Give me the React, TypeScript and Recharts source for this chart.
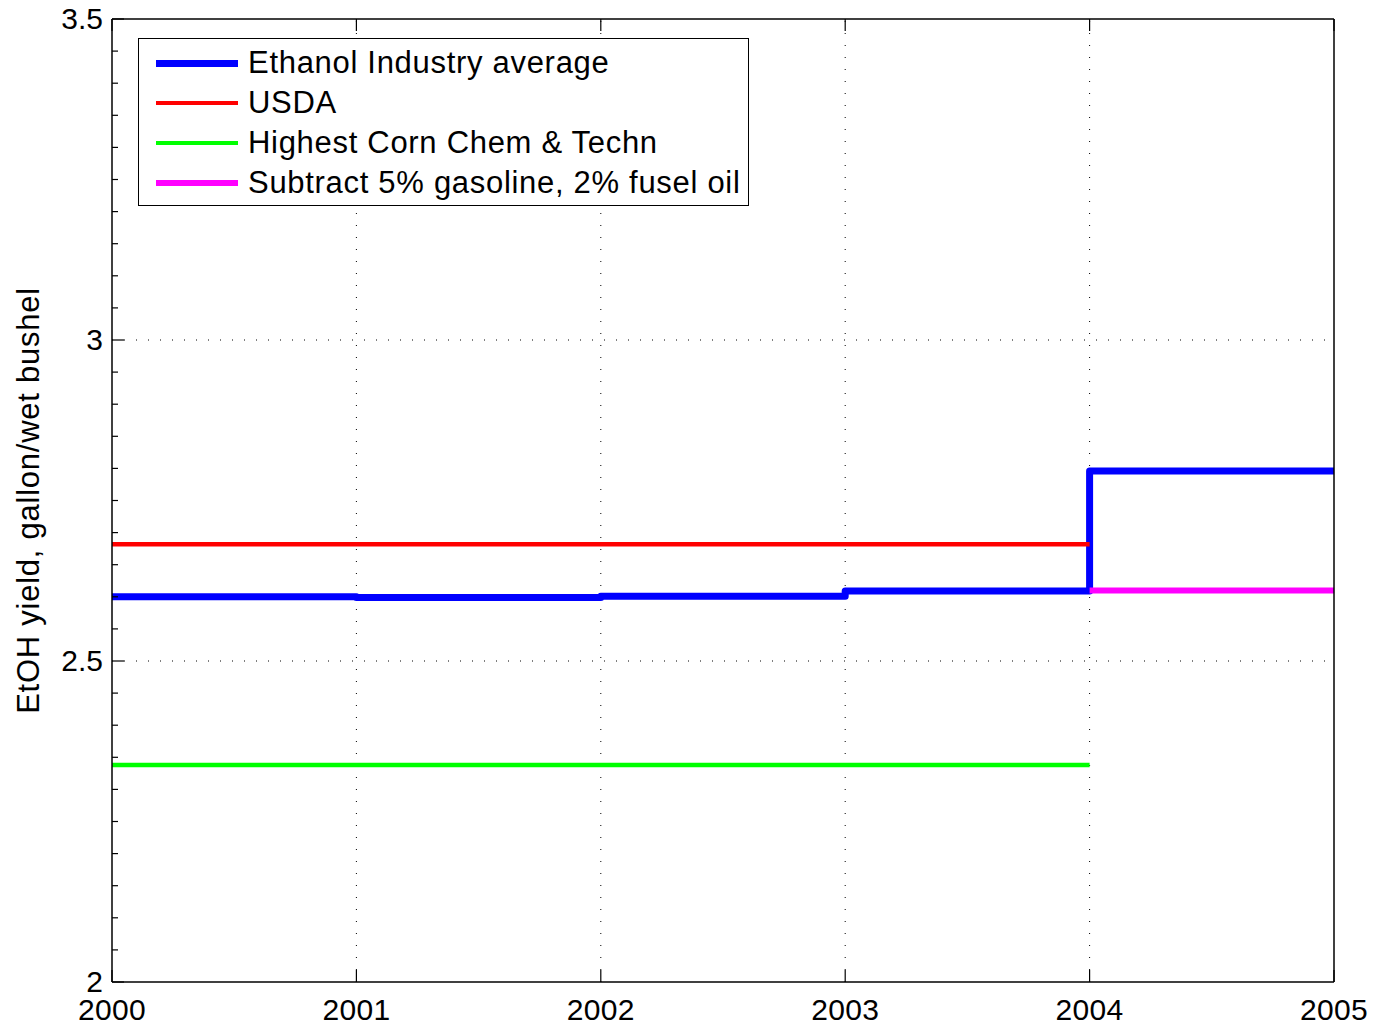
import { LineChart, Line, XAxis, YAxis, ReferenceLine, Legend } from 'recharts';

const years = [2000, 2001, 2002, 2003, 2004, 2005];
const ethanolIndustry = [2.6, 2.599, 2.601, 2.609, 2.796, 2.796];
const usda = [2.682, 2.682, 2.682, 2.682, 2.682, null];
const highestCorn = [2.338, 2.338, 2.338, 2.338, 2.338, null];
const subtractFusel = [null, null, null, null, 2.61, 2.61];

const seriesNames = [
  'Ethanol Industry average',
  'USDA',
  'Highest Corn Chem & Techn',
  'Subtract 5% gasoline, 2% fusel oil',
];

const yMajorTicks = [2, 2.5, 3, 3.5];
const yTicks = Array.from({ length: 31 }, (_, i) => Math.round((2 + i * 0.05) * 100) / 100);
const gridYears = [2001, 2002, 2003, 2004];
const gridValues = [2.5, 3];

const data = years.map((year, i) => ({
  year,
  ethanol: ethanolIndustry[i],
  usda: usda[i],
  corn: highestCorn[i],
  fusel: subtractFusel[i],
}));

const FONT = '"Liberation Sans", Arial, Helvetica, sans-serif';
const isMajor = (v: number) => yMajorTicks.some((m) => Math.abs(m - v) < 1e-6);

const BottomTick = ({ x, y, payload }: any) => (
  <g>
    <line x1={x} y1={y} x2={x} y2={y - 12} stroke="#000" strokeWidth={1.2} />
    <text x={x} y={y + 27} textAnchor="middle" dominantBaseline="central" fontSize={30} letterSpacing={0.3} fontFamily={FONT} fill="#000">
      {payload.value}
    </text>
  </g>
);

const TopTick = ({ x, y }: any) => <line x1={x} y1={y} x2={x} y2={y + 12} stroke="#000" strokeWidth={1.2} />;

const LeftTick = ({ x, y, payload }: any) => {
  const major = isMajor(payload.value);
  return (
    <g>
      <line x1={x} y1={y} x2={x + (major ? 12 : 6)} y2={y} stroke="#000" strokeWidth={1.2} />
      {major && (
        <text x={x - 9} y={y - 1} textAnchor="end" dominantBaseline="central" fontSize={30} fontFamily={FONT} fill="#000">
          {payload.value}
        </text>
      )}
    </g>
  );
};

const RightTick = ({ x, y, payload }: any) => {
  const major = isMajor(payload.value);
  return <line x1={x} y1={y} x2={x - (major ? 12 : 6)} y2={y} stroke="#000" strokeWidth={1.2} />;
};

const YLabel = ({ viewBox }: any) => {
  const cx = viewBox.x + 28;
  const cy = viewBox.y + viewBox.height / 2;
  return (
    <text
      x={cx}
      y={cy}
      transform={`rotate(-90, ${cx}, ${cy})`}
      textAnchor="middle"
      dominantBaseline="central"
      fontSize={31}
      letterSpacing={0.75}
      fontFamily={FONT}
      fill="#000"
    >
      EtOH yield, gallon/wet bushel
    </text>
  );
};

const LegendBox = ({ payload }: any) => {
  const items = [...(payload || [])].sort(
    (a: any, b: any) => seriesNames.indexOf(a.value) - seriesNames.indexOf(b.value)
  );
  return (
    <div
      style={{
        width: 609,
        height: 166,
        border: '1px solid #000',
        background: '#fff',
        fontFamily: FONT,
        fontSize: 31,
        letterSpacing: 0.7,
        position: 'relative',
      }}
    >
      {items.map((entry: any, i: number) => (
        <div
          key={entry.value}
          style={{ position: 'absolute', left: 17, top: 4 + i * 40, height: 40, display: 'flex', alignItems: 'center', whiteSpace: 'nowrap' }}
        >
          <div style={{ width: 82, height: entry.payload?.strokeWidth ?? 5, background: entry.color }} />
          <span style={{ marginLeft: 10, color: '#000' }}>{entry.value}</span>
        </div>
      ))}
    </div>
  );
};

export default function App() {
  return (
    <div style={{ position: 'absolute', left: 0, top: 0, width: 1375, height: 1027, background: '#fff' }}>
      <LineChart width={1375} height={1027} data={data} margin={{ top: 18, right: 40, bottom: 0, left: 0 }}>
        <XAxis
          dataKey="year"
          type="number"
          domain={[2000, 2005]}
          ticks={years}
          height={45}
          tickSize={0}
          tickMargin={0}
          tick={<BottomTick />}
          axisLine={{ stroke: '#000', strokeWidth: 1.5 }}
          tickLine={false}
          allowDataOverflow
        />
        <XAxis
          xAxisId="top"
          orientation="top"
          dataKey="year"
          type="number"
          domain={[2000, 2005]}
          ticks={years}
          height={1}
          tickSize={0}
          tickMargin={0}
          tick={<TopTick />}
          axisLine={{ stroke: '#000', strokeWidth: 1.5 }}
          tickLine={false}
        />
        <YAxis
          type="number"
          domain={[2, 3.5]}
          ticks={yTicks}
          interval={0}
          width={112}
          tickSize={0}
          tickMargin={0}
          tick={<LeftTick />}
          axisLine={{ stroke: '#000', strokeWidth: 1.5 }}
          tickLine={false}
          label={<YLabel />}
          allowDataOverflow
        />
        <YAxis
          yAxisId="right"
          orientation="right"
          type="number"
          domain={[2, 3.5]}
          ticks={yTicks}
          interval={0}
          width={1}
          tickSize={0}
          tickMargin={0}
          tick={<RightTick />}
          axisLine={{ stroke: '#000', strokeWidth: 1.5 }}
          tickLine={false}
        />
        {gridYears.map((yr) => (
          <ReferenceLine key={`gx${yr}`} x={yr} stroke="#000" strokeWidth={1} strokeDasharray="1 11" />
        ))}
        {gridValues.map((v) => (
          <ReferenceLine key={`gy${v}`} y={v} stroke="#000" strokeWidth={1} strokeDasharray="1 11" />
        ))}
        <Legend
          layout="horizontal"
          verticalAlign="middle"
          align="center"
          itemSorter={null as any}
          content={<LegendBox />}
          wrapperStyle={{ position: 'absolute', left: 138, top: 38, width: 611, height: 168 }}
        />
        <Line
          type="stepAfter"
          dataKey="ethanol"
          name={seriesNames[0]}
          stroke="#0000ff"
          strokeWidth={7}
          strokeLinejoin="round"
          dot={false}
          activeDot={false}
          isAnimationActive={false}
        />
        <Line
          type="linear"
          dataKey="usda"
          name={seriesNames[1]}
          stroke="#ff0000"
          strokeWidth={4.5}
          dot={false}
          activeDot={false}
          isAnimationActive={false}
        />
        <Line
          type="linear"
          dataKey="corn"
          name={seriesNames[2]}
          stroke="#00ff00"
          strokeWidth={4.5}
          dot={false}
          activeDot={false}
          isAnimationActive={false}
        />
        <Line
          type="linear"
          dataKey="fusel"
          name={seriesNames[3]}
          stroke="#ff00ff"
          strokeWidth={6}
          dot={false}
          activeDot={false}
          isAnimationActive={false}
        />
      </LineChart>
    </div>
  );
}
